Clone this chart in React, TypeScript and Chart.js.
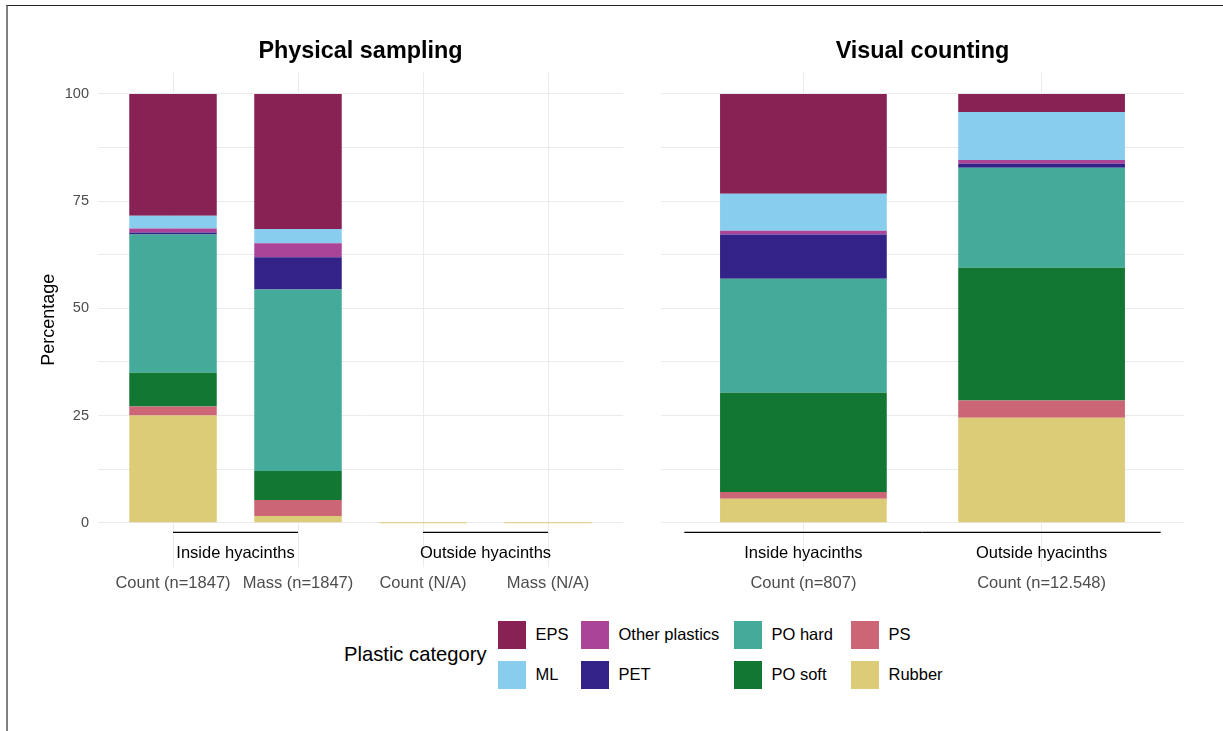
import React, { useEffect, useRef } from 'react';
import { Chart, registerables } from 'chart.js';

Chart.register(...registerables);

const FONT = '"Liberation Sans", Arial, Helvetica, sans-serif';

// Series, stacked bottom -> top
const seriesNames = ['Rubber', 'PS', 'PO soft', 'PO hard', 'PET', 'Other plastics', 'ML', 'EPS'];
const seriesColors = ['#DDCC77', '#CC6677', '#117733', '#44AA99', '#332288', '#AA4499', '#88CCEE', '#882255'];

// Physical sampling panel
const physicalCategories = ['Count (n=1847)', 'Mass (n=1847)', 'Count (N/A)', 'Mass (N/A)'];
const physicalRubber = [25.0, 1.6, 0, 0];
const physicalPS = [2.1, 3.7, 0, 0];
const physicalPOsoft = [7.9, 6.8, 0, 0];
const physicalPOhard = [32.2, 42.3, 0, 0];
const physicalPET = [0.5, 7.5, 0, 0];
const physicalOther = [0.9, 3.3, 0, 0];
const physicalML = [3.0, 3.3, 0, 0];
const physicalEPS = [28.4, 31.5, 0, 0];
const physicalGroups = [
  { label: 'Inside hyacinths', from: 0, to: 1 },
  { label: 'Outside hyacinths', from: 2, to: 3 },
];

// Visual counting panel
const visualCategories = ['Count (n=807)', 'Count (n=12.548)'];
const visualRubber = [5.6, 24.5];
const visualPS = [1.6, 4.0];
const visualPOsoft = [23.1, 31.0];
const visualPOhard = [26.6, 23.3];
const visualPET = [10.3, 0.9];
const visualOther = [0.9, 0.9];
const visualML = [8.6, 11.2];
const visualEPS = [23.3, 4.2];
const visualGroups = [
  { label: 'Inside hyacinths', from: -0.5, to: 0.5 },
  { label: 'Outside hyacinths', from: 0.5, to: 1.5 },
];

const yGridValues = [0, 12.5, 25, 37.5, 50, 62.5, 75, 87.5, 100];
const yLabelValues = [0, 25, 50, 75, 100];

const legendOrder = ['EPS', 'ML', 'Other plastics', 'PET', 'PO hard', 'PO soft', 'PS', 'Rubber'];

const groupPlugin = {
  id: 'groupAxis',
  afterDatasetsDraw(chart: any, _args: any, opts: any) {
    const { ctx, scales } = chart;
    const x = scales.x;
    const y = scales.y;
    const y0 = y.getPixelForValue(0);
    ctx.save();
    (opts.groups || []).forEach((g: any) => {
      const x1 = x.getPixelForValue(g.from);
      const x2 = x.getPixelForValue(g.to);
      ctx.strokeStyle = '#000000';
      ctx.lineWidth = 1.3;
      ctx.beginPath();
      ctx.moveTo(x1, y0 + 9.5);
      ctx.lineTo(x2, y0 + 9.5);
      ctx.stroke();
      ctx.fillStyle = '#000000';
      ctx.font = `16.5px ${FONT}`;
      ctx.textAlign = 'center';
      ctx.textBaseline = 'middle';
      ctx.fillText(g.label, (x1 + x2) / 2, y0 + 31);
    });
    ctx.restore();
  },
};

type PanelProps = {
  categories: string[];
  series: number[][];
  groups: { label: string; from: number; to: number }[];
  showY: boolean;
  left: number;
  width: number;
  padLeft: number;
  padRight: number;
};

function Panel({ categories, series, groups, showY, left, width, padLeft, padRight }: PanelProps) {
  const ref = useRef<HTMLCanvasElement | null>(null);
  useEffect(() => {
    if (!ref.current) return;
    const datasets = seriesNames.map((name, si) => ({
      label: name,
      data: series[si].map((v, i) => ({ x: i, y: v })),
      backgroundColor: seriesColors[si],
      borderWidth: 0,
      categoryPercentage: 1,
      barPercentage: 0.7,
      minBarLength: name === 'Rubber' ? 1 : 0,
    }));
    const chart = new Chart(ref.current, {
      type: 'bar',
      data: { datasets } as any,
      plugins: [groupPlugin as any],
      options: {
        animation: false,
        responsive: true,
        maintainAspectRatio: false,
        layout: { padding: { left: padLeft, right: padRight, top: 72.5, bottom: 0 } },
        plugins: {
          legend: { display: false },
          tooltip: { enabled: false },
          groupAxis: { groups },
        } as any,
        scales: {
          x: {
            type: 'linear',
            stacked: true,
            offset: false,
            min: -0.6,
            max: categories.length - 1 + 0.6,
            grid: { color: '#ebebeb', lineWidth: 1, drawTicks: false, offset: false },
            border: { display: false },
            ticks: {
              autoSkip: false,
              maxRotation: 0,
              minRotation: 0,
              padding: 7,
              color: '#4d4d4d',
              font: { family: FONT, size: 16.5 },
              callback: (v: any) => categories[v] ?? '',
            },
            afterBuildTicks: (s: any) => {
              s.ticks = categories.map((_, i) => ({ value: i }));
            },
            afterFit: (s: any) => {
              s.height = 33;
            },
          } as any,
          y: {
            type: 'linear',
            stacked: true,
            min: -10.3,
            max: 105,
            grid: { color: '#ebebeb', lineWidth: 1, drawTicks: false },
            border: { display: false },
            ticks: {
              display: showY,
              padding: 9,
              color: '#4d4d4d',
              font: { family: FONT, size: 14.5 },
              callback: (v: any) => (yLabelValues.includes(v) ? String(v) : ''),
            },
            title: {
              display: showY,
              text: 'Percentage',
              color: '#000000',
              font: { family: FONT, size: 18 },
              padding: { top: 38, bottom: 0 },
            },
            afterBuildTicks: (s: any) => {
              s.ticks = yGridValues.map((v) => ({ value: v }));
            },
            afterFit: (s: any) => {
              s.width = showY ? 98 : 0;
            },
          } as any,
        },
      },
    });
    return () => chart.destroy();
  }, []);
  return (
    <div style={{ position: 'absolute', left, top: 0, width, height: 600 }}>
      <canvas ref={ref} />
    </div>
  );
}

export default function App() {
  const physicalSeries = [physicalRubber, physicalPS, physicalPOsoft, physicalPOhard, physicalPET, physicalOther, physicalML, physicalEPS];
  const visualSeries = [visualRubber, visualPS, visualPOsoft, visualPOhard, visualPET, visualOther, visualML, visualEPS];
  const colorOf = (n: string) => seriesColors[seriesNames.indexOf(n)];
  const colWidths = ['83px', '153px', '117px', 'auto'];
  return (
    <div style={{ position: 'absolute', left: 0, top: 0, width: 1223, height: 731, background: '#ffffff', fontFamily: FONT, overflow: 'hidden' }}>
      <div style={{ position: 'absolute', left: 6, top: 5, width: 1217, height: 726, boxSizing: 'border-box', borderTop: '1px solid #222222', borderLeft: '2px solid #808080' }} />
      <Panel categories={physicalCategories} series={physicalSeries} groups={physicalGroups} showY={true} left={0} width={640} padLeft={0} padRight={17} />
      <Panel categories={visualCategories} series={visualSeries} groups={visualGroups} showY={false} left={640} width={583} padLeft={20.5} padRight={38.5} />
      <div style={{ position: 'absolute', left: 98, width: 525, top: 36.5, lineHeight: '27px', textAlign: 'center', fontSize: 23.4, fontWeight: 'bold', color: '#000' }}>Physical sampling</div>
      <div style={{ position: 'absolute', left: 660.5, width: 524, top: 36.5, lineHeight: '27px', textAlign: 'center', fontSize: 23.4, fontWeight: 'bold', color: '#000' }}>Visual counting</div>
      <div style={{ position: 'absolute', left: 344, top: 614.5, height: 80, display: 'flex', alignItems: 'center' }}>
        <div style={{ fontSize: 20.2, color: '#000', marginRight: 11, whiteSpace: 'nowrap' }}>Plastic category</div>
        <div style={{ display: 'grid', gridAutoFlow: 'column', gridTemplateRows: '40px 40px', gridTemplateColumns: colWidths.join(' ') }}>
          {legendOrder.map((n) => (
            <div key={n} style={{ display: 'flex', alignItems: 'center', whiteSpace: 'nowrap' }}>
              <div style={{ width: 28, height: 28, background: colorOf(n), marginRight: 10 }} />
              <span style={{ fontSize: 16.5, color: '#000' }}>{n}</span>
            </div>
          ))}
        </div>
      </div>
    </div>
  );
}
